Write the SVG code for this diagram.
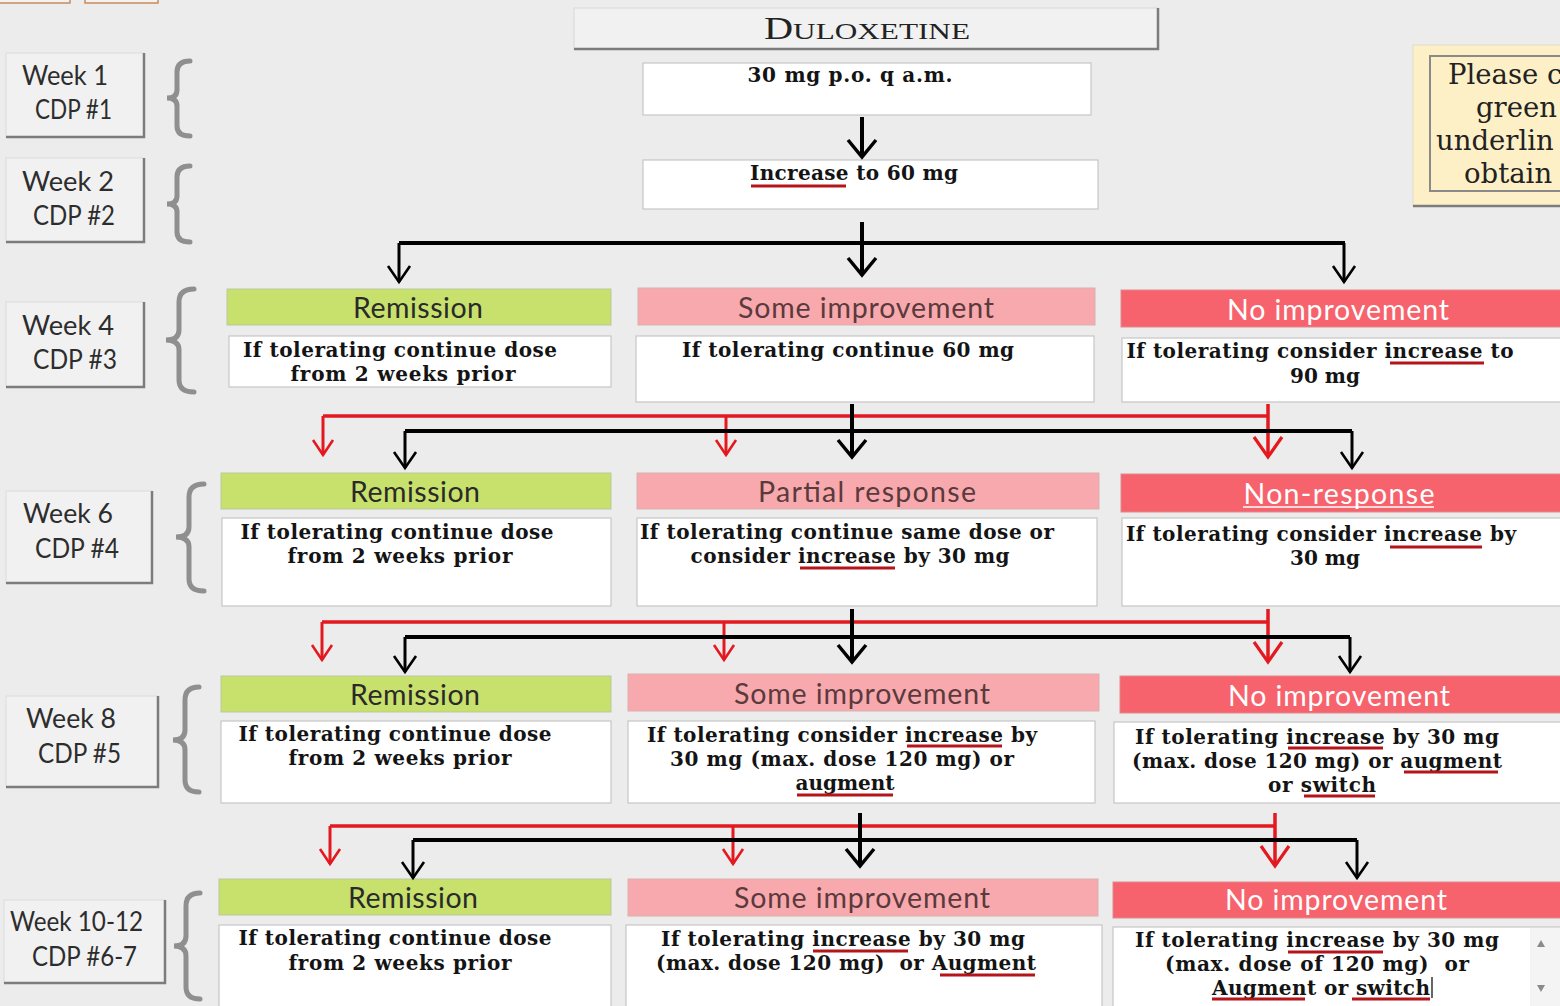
<svg xmlns="http://www.w3.org/2000/svg" width="1560" height="1006" viewBox="0 0 1560 1006">
<defs>
<style>
.wk{fill:#f1f1f1;stroke:#dcdcdc;stroke-width:1}
.sh{fill:none;stroke:#7c7c7c;stroke-width:2.5}
.wt{font-family:Lato,"Open Sans",sans-serif;font-size:27px;fill:#2d2d2d}
.brace{fill:none;stroke:#8f8f8f;stroke-width:5;stroke-linecap:round}
.hg{fill:#c8e06c;stroke:#b9c9a0;stroke-width:1}
.hp{fill:#f8a9ae;stroke:#d9b0b0;stroke-width:1}
.hr{fill:#f7636d;stroke:#e08a90;stroke-width:1}
.ht{font-family:Lato,"Open Sans",sans-serif;font-size:28.5px;text-anchor:middle}
.htd{fill:#2a2a2a}
.hpd{fill:#5a3a3c}
.htw{fill:#ffffff}
.bx{fill:#ffffff;stroke:#c6c6c6;stroke-width:1.2}
.bt{font-family:"DejaVu Serif","Liberation Serif",serif;font-weight:bold;font-size:20px;fill:#141414;text-anchor:middle}
.ul{stroke:#b3151a;stroke-width:3}
.k{fill:none;stroke:#000;stroke-width:4}
.ks{fill:none;stroke:#000;stroke-width:3}
.r{fill:none;stroke:#e3191f;stroke-width:3.5}
.rs{fill:none;stroke:#e3191f;stroke-width:3}
</style>
<marker id="akb" markerUnits="userSpaceOnUse" orient="auto" refX="0" refY="0" markerWidth="40" markerHeight="40" overflow="visible"><path d="M-17,-14 L0,0 L-17,14" fill="none" stroke="#000" stroke-width="3.5"/></marker>
<marker id="aks" markerUnits="userSpaceOnUse" orient="auto" refX="0" refY="0" markerWidth="40" markerHeight="40" overflow="visible"><path d="M-16,-11 L0,0 L-16,11" fill="none" stroke="#000" stroke-width="2.6"/></marker>
<marker id="arb" markerUnits="userSpaceOnUse" orient="auto" refX="0" refY="0" markerWidth="40" markerHeight="40" overflow="visible"><path d="M-20,-14 L0,0 L-20,14" fill="none" stroke="#e3191f" stroke-width="3.2"/></marker>
<marker id="ars" markerUnits="userSpaceOnUse" orient="auto" refX="0" refY="0" markerWidth="40" markerHeight="40" overflow="visible"><path d="M-15,-10 L0,0 L-15,10" fill="none" stroke="#e3191f" stroke-width="2.6"/></marker>
</defs>
<rect x="0" y="0" width="1560" height="1006" fill="#ececec"/>
<!-- top-left partial boxes -->
<rect x="-2" y="-30" width="72" height="33" fill="#f2f2f2" stroke="#c98a5a" stroke-width="1.5"/>
<rect x="85" y="-30" width="73" height="33" fill="#f2f2f2" stroke="#c98a5a" stroke-width="1.5"/>

<!-- week labels -->
<g id="week1"><rect class="wk" x="6" y="53" width="138" height="84"/><path class="sh" d="M6,137 H144 V53"/><text class="wt" x="22" y="85" textLength="86" lengthAdjust="spacingAndGlyphs">Week 1</text><text class="wt" x="35" y="119" textLength="77" lengthAdjust="spacingAndGlyphs">CDP #1</text></g>
<g id="week2"><rect class="wk" x="6" y="158" width="138" height="84"/><path class="sh" d="M6,242 H144 V158"/><text class="wt" x="22" y="191" textLength="92" lengthAdjust="spacingAndGlyphs">Week 2</text><text class="wt" x="33" y="225" textLength="82" lengthAdjust="spacingAndGlyphs">CDP #2</text></g>
<g id="week4"><rect class="wk" x="6" y="302" width="138" height="85"/><path class="sh" d="M6,387 H144 V302"/><text class="wt" x="22" y="335" textLength="92" lengthAdjust="spacingAndGlyphs">Week 4</text><text class="wt" x="33" y="369" textLength="84" lengthAdjust="spacingAndGlyphs">CDP #3</text></g>
<g id="week6"><rect class="wk" x="6" y="491" width="146" height="92"/><path class="sh" d="M6,583 H152 V491"/><text class="wt" x="23" y="523" textLength="90" lengthAdjust="spacingAndGlyphs">Week 6</text><text class="wt" x="35" y="558" textLength="84" lengthAdjust="spacingAndGlyphs">CDP #4</text></g>
<g id="week8"><rect class="wk" x="6" y="696" width="152" height="91"/><path class="sh" d="M6,787 H158 V696"/><text class="wt" x="26" y="728" textLength="90" lengthAdjust="spacingAndGlyphs">Week 8</text><text class="wt" x="38" y="763" textLength="83" lengthAdjust="spacingAndGlyphs">CDP #5</text></g>
<g id="week10"><rect class="wk" x="4" y="900" width="161" height="83"/><path class="sh" d="M4,983 H165 V900"/><text class="wt" x="10" y="931" textLength="133" lengthAdjust="spacingAndGlyphs">Week 10-12</text><text class="wt" x="32" y="966" textLength="105" lengthAdjust="spacingAndGlyphs">CDP #6-7</text></g>

<!-- braces -->
<g id="braces">
<path class="brace" d="M190,61 Q177,61 177,72 V90 Q177,98 167,98 Q177,98 177,106 V126 Q177,136 190,136"/>
<path class="brace" d="M190,166 Q177,166 177,177 V196 Q177,204 167,204 Q177,204 177,212 V232 Q177,242 190,242"/>
<path class="brace" d="M194,289 Q179,289 179,302 V330 Q179,340 166,340 Q179,340 179,350 V380 Q179,392 194,392"/>
<path class="brace" d="M204,484 Q189,484 189,497 V527 Q189,537 176,537 Q189,537 189,547 V579 Q189,591 204,591"/>
<path class="brace" d="M199,687 Q185,687 185,700 V730 Q185,740 173,740 Q185,740 185,750 V780 Q185,792 199,792"/>
<path class="brace" d="M200,893 Q186,893 186,906 V936 Q186,946 174,946 Q186,946 186,956 V987 Q186,999 200,999"/>
</g>

<!-- title -->
<g id="title"><rect x="574" y="8" width="584" height="41" fill="#f1f1f1" stroke="#d8d8d8"/><path class="sh" d="M574,49 H1158 V8"/>
<text x="867" y="39" text-anchor="middle" font-family="'Liberation Serif',serif" fill="#222" textLength="206" lengthAdjust="spacingAndGlyphs"><tspan font-size="31">D</tspan><tspan font-size="24">ULOXETINE</tspan></text></g>

<!-- note -->
<g id="note"><rect x="1413" y="45" width="150" height="161" fill="#fdf0c6" stroke="#e2dccb"/><path d="M1413,206 H1560" stroke="#7c7c7c" stroke-width="2.5"/>
<rect x="1430" y="56" width="140" height="135" fill="none" stroke="#8a8a8a" stroke-width="2"/>
<g font-family="'DejaVu Serif',serif" font-size="27.5" fill="#222"><text x="1448" y="84">Please c</text><text x="1476" y="117">green</text><text x="1436" y="150">underlin</text><text x="1464" y="183">obtain</text></g></g>

<!-- start nodes -->
<g id="start"><rect class="bx" x="643" y="63" width="448" height="52"/><text class="bt" x="850" y="82" textLength="205">30 mg p.o. q a.m.</text></g>
<g id="inc60"><rect class="bx" x="643" y="160" width="455" height="49"/><text class="bt" x="854" y="180" textLength="208">Increase to 60 mg</text><line class="ul" x1="751" y1="186" x2="846" y2="186"/></g>

<!-- row week 4 -->
<g id="r3-rem"><rect class="hg" x="227" y="289" width="384" height="36"/><text class="ht htd" x="418" y="318" textLength="130">Remission</text>
<rect class="bx" x="229" y="336" width="382" height="51"/><text class="bt" x="400" y="357" textLength="314">If tolerating continue dose</text><text class="bt" x="403" y="381" textLength="225">from 2 weeks prior</text></g>
<g id="r3-some"><rect class="hp" x="638" y="288" width="457" height="37"/><text class="ht hpd" x="866" y="318" textLength="256">Some improvement</text>
<rect class="bx" x="636" y="336" width="458" height="66"/><text class="bt" x="848" y="357" textLength="332">If tolerating continue 60 mg</text></g>
<g id="r3-no"><rect class="hr" x="1121" y="290" width="440" height="37"/><text class="ht htw" x="1338" y="320" textLength="222">No improvement</text>
<rect class="bx" x="1122" y="338" width="440" height="64"/><text class="bt" x="1320" y="358" textLength="387">If tolerating consider increase to</text><text class="bt" x="1325" y="383" textLength="70">90 mg</text><line class="ul" x1="1390" y1="363" x2="1484" y2="363"/></g>

<!-- row week 6 -->
<g id="r4-rem"><rect class="hg" x="221" y="473" width="390" height="36"/><text class="ht htd" x="415" y="502" textLength="130">Remission</text>
<rect class="bx" x="222" y="518" width="389" height="88"/><text class="bt" x="397" y="539" textLength="313">If tolerating continue dose</text><text class="bt" x="400" y="563" textLength="225">from 2 weeks prior</text></g>
<g id="r4-partial"><rect class="hp" x="637" y="473" width="462" height="36"/><text class="ht hpd" x="867" y="502" textLength="218">Partial response</text>
<rect class="bx" x="637" y="518" width="460" height="88"/><text class="bt" x="847" y="539" textLength="414">If tolerating continue same dose or</text><text class="bt" x="850" y="563" textLength="319">consider increase by 30 mg</text><line class="ul" x1="800" y1="568" x2="895" y2="568"/></g>
<g id="r4-non"><rect class="hr" x="1121" y="474" width="440" height="38"/><text class="ht htw" x="1339" y="504" textLength="191">Non-response</text><line x1="1243" y1="507" x2="1434" y2="507" stroke="#fff" stroke-width="1.5"/>
<rect class="bx" x="1122" y="518" width="440" height="88"/><text class="bt" x="1321" y="541" textLength="390">If tolerating consider increase by</text><text class="bt" x="1325" y="565" textLength="70">30 mg</text><line class="ul" x1="1390" y1="547" x2="1482" y2="547"/></g>

<!-- row week 8 -->
<g id="r5-rem"><rect class="hg" x="221" y="676" width="390" height="36"/><text class="ht htd" x="415" y="705" textLength="130">Remission</text>
<rect class="bx" x="221" y="721" width="390" height="82"/><text class="bt" x="395" y="741" textLength="313">If tolerating continue dose</text><text class="bt" x="400" y="765" textLength="223">from 2 weeks prior</text></g>
<g id="r5-some"><rect class="hp" x="628" y="674" width="471" height="37"/><text class="ht hpd" x="862" y="704" textLength="256">Some improvement</text>
<rect class="bx" x="628" y="721" width="467" height="82"/><text class="bt" x="842" y="742" textLength="390">If tolerating consider increase by</text><text class="bt" x="842" y="766" textLength="344">30 mg (max. dose 120 mg) or</text><text class="bt" x="845" y="790" textLength="99">augment</text>
<line class="ul" x1="907" y1="746" x2="1002" y2="746"/><line class="ul" x1="797" y1="795" x2="893" y2="795"/></g>
<g id="r5-no"><rect class="hr" x="1120" y="676" width="441" height="37"/><text class="ht htw" x="1339" y="706" textLength="222">No improvement</text>
<rect class="bx" x="1114" y="722" width="448" height="81"/><text class="bt" x="1317" y="744" textLength="364">If tolerating increase by 30 mg</text><text class="bt" x="1317" y="768" textLength="370">(max. dose 120 mg) or augment</text><text class="bt" x="1322" y="792" textLength="108">or switch</text>
<line class="ul" x1="1288" y1="748" x2="1383" y2="748"/><line class="ul" x1="1404" y1="772" x2="1498" y2="772"/><line class="ul" x1="1304" y1="796" x2="1375" y2="796"/></g>

<!-- row week 10-12 -->
<g id="r6-rem"><rect class="hg" x="219" y="879" width="392" height="36"/><text class="ht htd" x="413" y="908" textLength="130">Remission</text>
<rect class="bx" x="219" y="925" width="392" height="90"/><text class="bt" x="395" y="945" textLength="313">If tolerating continue dose</text><text class="bt" x="400" y="970" textLength="223">from 2 weeks prior</text></g>
<g id="r6-some"><rect class="hp" x="628" y="879" width="470" height="37"/><text class="ht hpd" x="862" y="908" textLength="256">Some improvement</text>
<rect class="bx" x="626" y="925" width="476" height="90"/><text class="bt" x="843" y="946" textLength="364">If tolerating increase by 30 mg</text><text class="bt" x="846" y="970" textLength="380" xml:space="preserve">(max. dose 120 mg)  or Augment</text>
<line class="ul" x1="813" y1="951" x2="908" y2="951"/><line class="ul" x1="940" y1="975" x2="1035" y2="975"/></g>
<g id="r6-no"><rect class="hr" x="1113" y="882" width="448" height="36"/><text class="ht htw" x="1336" y="910" textLength="222">No improvement</text>
<rect class="bx" x="1113" y="927" width="449" height="90"/><text class="bt" x="1317" y="947" textLength="364">If tolerating increase by 30 mg</text><text class="bt" x="1317" y="971" textLength="304" xml:space="preserve">(max. dose of 120 mg)  or</text><text class="bt" x="1321" y="995" textLength="218">Augment or switch</text>
<line class="ul" x1="1288" y1="952" x2="1383" y2="952"/><line class="ul" x1="1212" y1="999" x2="1305" y2="999"/><line class="ul" x1="1352" y1="999" x2="1430" y2="999"/>
<line x1="1432" y1="977" x2="1432" y2="998" stroke="#000" stroke-width="1.2"/>
<rect x="1530" y="928" width="30" height="78" fill="#f4f4f4"/><path d="M1537,947 L1541,940 L1545,947 Z" fill="#8a8a8a"/><path d="M1537,985 L1541,992 L1545,985 Z" fill="#8a8a8a"/></g>

<!-- connectors -->
<g id="connectors">
<path class="k" d="M862,117 V157" marker-end="url(#akb)"/>
<path class="k" d="M862,222 V275" marker-end="url(#akb)"/>
<path class="k" d="M399,243 H1345"/>
<path class="ks" d="M399,243 V282" marker-end="url(#aks)"/>
<path class="ks" d="M1344,243 V282" marker-end="url(#aks)"/>

<path class="r" d="M323,416 H1268"/>
<path class="r" d="M1268,404 V457" marker-end="url(#arb)"/>
<path class="rs" d="M323,416 V455" marker-end="url(#ars)"/>
<path class="rs" d="M726,416 V455" marker-end="url(#ars)"/>
<path class="k" d="M405,431 H1352"/>
<path class="k" d="M852,404 V457" marker-end="url(#akb)"/>
<path class="ks" d="M405,431 V468" marker-end="url(#aks)"/>
<path class="ks" d="M1352,431 V468" marker-end="url(#aks)"/>

<path class="r" d="M322,622 H1268"/>
<path class="r" d="M1268,609 V662" marker-end="url(#arb)"/>
<path class="rs" d="M322,622 V660" marker-end="url(#ars)"/>
<path class="rs" d="M724,622 V660" marker-end="url(#ars)"/>
<path class="k" d="M405,637 H1350"/>
<path class="k" d="M852,609 V662" marker-end="url(#akb)"/>
<path class="ks" d="M405,637 V672" marker-end="url(#aks)"/>
<path class="ks" d="M1350,637 V672" marker-end="url(#aks)"/>

<path class="r" d="M330,826 H1275"/>
<path class="r" d="M1275,813 V866" marker-end="url(#arb)"/>
<path class="rs" d="M330,826 V864" marker-end="url(#ars)"/>
<path class="rs" d="M733,826 V864" marker-end="url(#ars)"/>
<path class="k" d="M413,840 H1357"/>
<path class="k" d="M860,813 V866" marker-end="url(#akb)"/>
<path class="ks" d="M413,840 V878" marker-end="url(#aks)"/>
<path class="ks" d="M1357,840 V878" marker-end="url(#aks)"/>
</g>
</svg>
